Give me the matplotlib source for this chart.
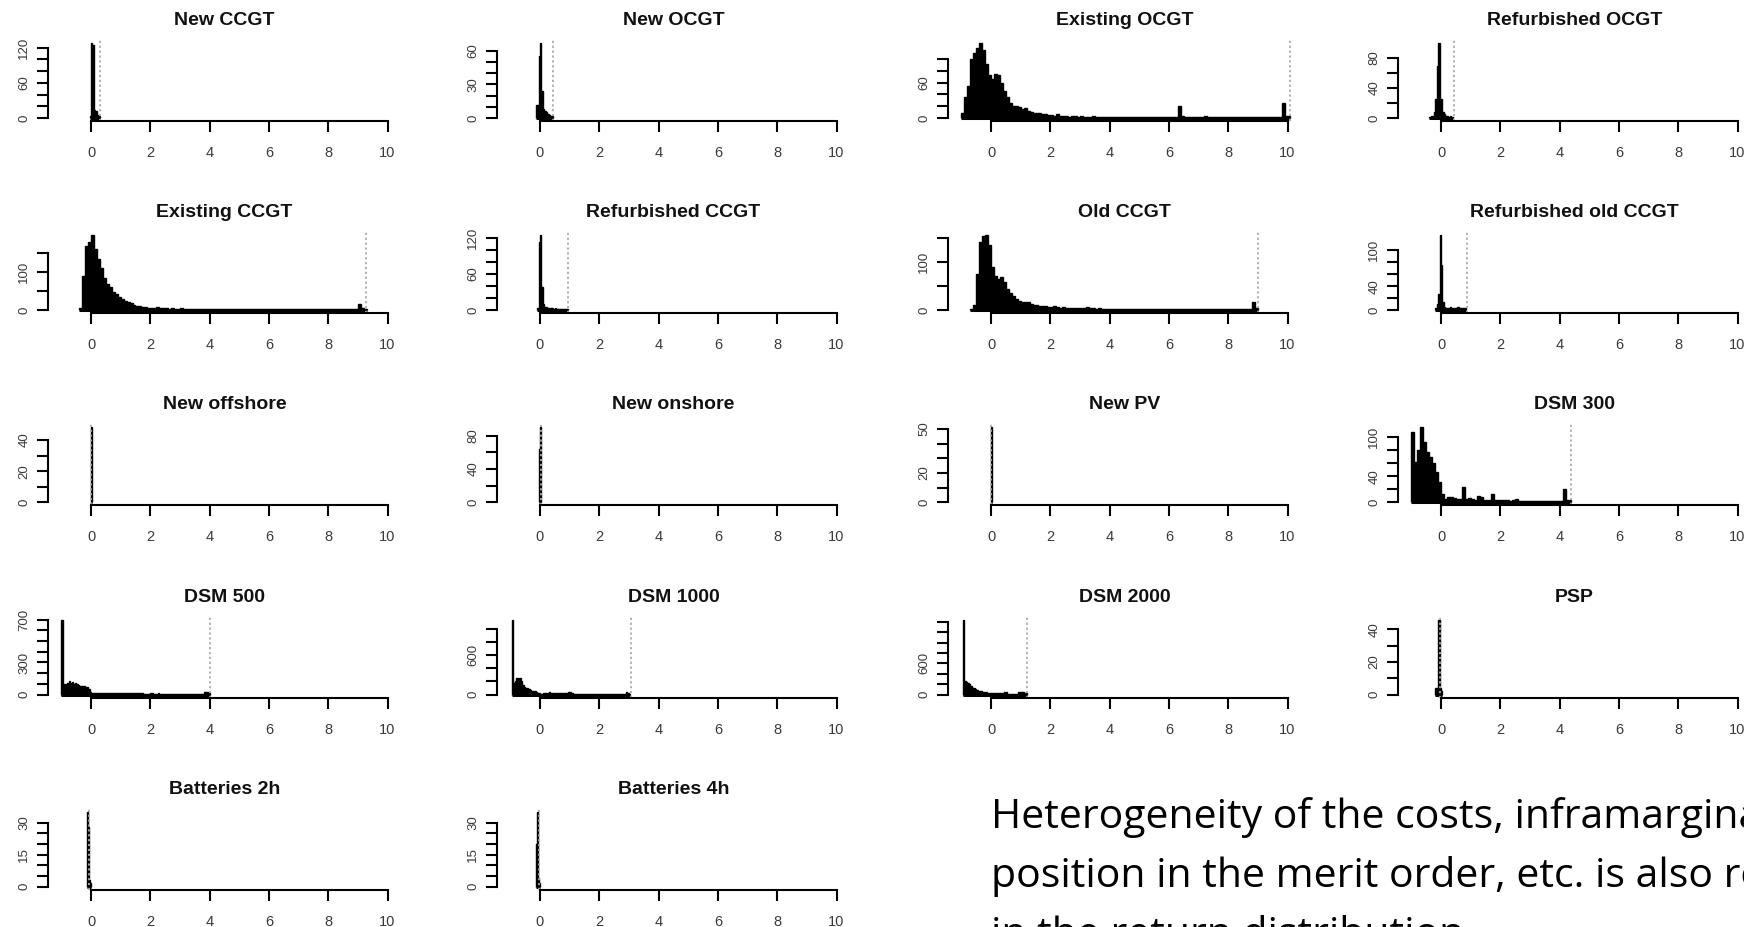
import numpy as np
import matplotlib
matplotlib.use('Agg')
import matplotlib.pyplot as plt

plt.rcParams['font.family'] = ['Liberation Sans', 'DejaVu Sans']

W, H = 1744, 927

titles = ['New CCGT', 'New OCGT', 'Existing OCGT', 'Refurbished OCGT',
          'Existing CCGT', 'Refurbished CCGT', 'Old CCGT', 'Refurbished old CCGT',
          'New offshore', 'New onshore', 'New PV', 'DSM 300',
          'DSM 500', 'DSM 1000', 'DSM 2000', 'PSP',
          'Batteries 2h', 'Batteries 4h']

# histogram counts per technology
new_ccgt = [3, 128, 124, 13, 12, 5, 4]
new_ocgt = [12, 12, 55, 67, 24, 8, 6, 5, 4, 3, 2, 2]
existing_ocgt = [8, 35, 55, 100, 110, 118, 127, 115, 92, 72,
                 66, 74, 72, 60, 45, 35, 26, 20, 20, 18,
                 15, 17, 12, 10, 9, 8, 9, 7, 6, 5,
                 5, 4, 6, 4, 3, 3, 2, 3, 3, 2,
                 3, 2, 2, 1, 3, 2, 1, 1, 1, 1,
                 1, 1, 1, 1, 1, 1, 1, 1, 1, 1,
                 1, 1, 1, 1, 1, 1, 1, 1, 1, 1,
                 1, 1, 1, 20, 3, 2, 2, 1, 1, 1,
                 1, 1, 4, 1, 1, 1, 1, 1, 1, 1,
                 1, 1, 1, 1, 1, 1, 1, 1, 1, 1,
                 1, 1, 1, 1, 1, 1, 1, 1, 26, 4,
                 3]
refurb_ocgt = [2, 3, 3, 8, 25, 69, 100, 26, 25, 8, 6, 3, 3, 2, 3, 2]
existing_ccgt = [5, 90, 168, 177, 195, 160, 132, 110, 85, 68,
                 60, 48, 42, 35, 30, 25, 22, 18, 14, 12,
                 10, 8, 8, 7, 7, 6, 8, 6, 6, 5,
                 4, 5, 4, 4, 5, 4, 4, 3, 4, 3,
                 3, 4, 2, 2, 4, 2, 2, 2, 2, 2,
                 2, 2, 2, 2, 2, 2, 2, 2, 2, 2,
                 2, 2, 2, 2, 2, 2, 2, 2, 2, 2,
                 2, 2, 2, 2, 2, 2, 2, 2, 2, 2,
                 2, 2, 2, 2, 2, 2, 2, 2, 2, 2,
                 2, 2, 2, 2, 16, 6, 4]
refurb_ccgt = [3, 112, 124, 39, 11, 6, 5, 4, 3, 3, 3, 2, 3, 2, 2, 2, 2, 2, 2, 2, 2]
old_ccgt = [3, 10, 75, 141, 153, 155, 134, 89, 70, 65,
            68, 58, 44, 36, 30, 24, 19, 17, 16, 16,
            12, 10, 10, 9, 8, 8, 7, 7, 8, 6,
            5, 6, 5, 4, 5, 4, 5, 4, 5, 6,
            4, 5, 3, 4, 3, 2, 2, 2, 2, 2,
            2, 2, 2, 2, 2, 2, 2, 2, 2, 2,
            2, 2, 2, 2, 2, 2, 2, 2, 2, 2,
            2, 2, 2, 2, 2, 2, 2, 2, 2, 2,
            2, 2, 2, 2, 2, 2, 2, 2, 2, 2,
            2, 2, 2, 2, 2, 16, 4]
refurb_old_ccgt = [3, 10, 27, 125, 75, 13, 6, 4, 4, 3, 5, 4, 3, 4, 3, 5, 4, 3, 4, 3, 3]
new_offshore = [48, 2]
new_onshore = [64, 90, 4]
new_pv = [51, 2]
dsm_300 = [108, 62, 80, 115, 92, 77, 69, 60, 46, 31,
           13, 5, 8, 8, 6, 5, 5, 23, 5, 6,
           5, 4, 10, 8, 4, 4, 3, 13, 3, 3,
           4, 3, 3, 2, 3, 5, 2, 2, 2, 2,
           2, 2, 2, 2, 2, 2, 2, 2, 2, 2,
           2, 21, 4, 3]
dsm_500 = [700, 93, 95, 90, 110, 125, 108, 115, 100, 105,
           98, 88, 84, 80, 78, 82, 75, 70, 53, 22,
           16, 17, 15, 16, 18, 16, 15, 17, 16, 15,
           16, 15, 17, 16, 15, 16, 17, 15, 16, 16,
           15, 16, 17, 16, 15, 16, 14, 15, 16, 15,
           14, 15, 16, 14, 13, 8, 8, 7, 8, 8,
           16, 12, 6, 5, 5, 12, 5, 5, 5, 5,
           5, 5, 5, 5, 5, 5, 5, 5, 5, 5,
           5, 5, 5, 5, 5, 5, 5, 5, 5, 5,
           5, 5, 5, 5, 5, 5, 20, 22, 20, 18]
dsm_1000 = [1140, 180, 200, 256, 190, 256, 205, 150, 120, 103,
            100, 80, 65, 62, 55, 48, 40, 26, 20, 10,
            12, 18, 26, 28, 30, 41, 26, 27, 26, 28,
            26, 27, 28, 26, 25, 27, 26, 30, 41, 38,
            26, 10, 8, 8, 8, 8, 8, 8, 8, 8,
            8, 8, 8, 8, 8, 8, 8, 8, 8, 8,
            8, 8, 8, 8, 8, 8, 8, 8, 8, 8,
            8, 8, 8, 8, 8, 8, 8, 36, 30, 10]
dsm_2000 = [1440, 260, 250, 220, 195, 160, 130, 120, 100, 80,
            70, 65, 60, 55, 50, 45, 40, 35, 33, 33,
            33, 33, 33, 33, 34, 33, 33, 33, 46, 46,
            13, 13, 13, 13, 13, 13, 13, 46, 46, 46,
            46, 40, 30]
psp = [4, 4, 46, 4, 2]
batteries_2h = [2, 35, 28, 3, 2]
batteries_4h = [3, 20, 35, 4, 2]

counts = [new_ccgt, new_ocgt, existing_ocgt, refurb_ocgt,
          existing_ccgt, refurb_ccgt, old_ccgt, refurb_old_ccgt,
          new_offshore, new_onshore, new_pv, dsm_300,
          dsm_500, dsm_1000, dsm_2000, psp,
          batteries_2h, batteries_4h]
bin_start = [-0.05, -0.15, -1.0, -0.4,
             -0.4, -0.1, -0.7, -0.2,
             0.0, -0.02, 0.0, -1.0,
             -1.0, -0.95, -0.95, -0.2,
             -0.15, -0.15]
bin_width = [0.05, 0.05, 0.1, 0.05,
             0.1, 0.05, 0.1, 0.05,
             0.02, 0.02, 0.02, 0.1,
             0.05, 0.05, 0.05, 0.05,
             0.03, 0.03]
cutoff = [0.3, 0.45, 10.08, 0.43,
          9.28, 0.96, 9.0, 0.87,
          0.0, 0.02, 0.0, 4.4,
          4.0, 3.07, 1.21, -0.05,
          -0.08, -0.05]
ytick_step = [20, 10, 20, 20,
              50, 20, 50, 20,
              10, 20, 10, 20,
              100, 200, 200, 10,
              5, 5]
ytick_top = [120, 60, 100, 80,
             150, 120, 150, 100,
             40, 80, 50, 100,
             700, 1000, 1400, 40,
             30, 30]
ytick_shown = [[0, 60, 120], [0, 30, 60], [0, 60], [0, 40, 80],
               [0, 100], [0, 60, 120], [0, 100], [0, 40, 100],
               [0, 20, 40], [0, 40, 80], [0, 20, 50], [0, 40, 100],
               [0, 300, 700], [0, 600], [0, 600], [0, 20, 40],
               [0, 15, 30], [0, 15, 30]]
xticks = [0, 2, 4, 6, 8, 10]

note_lines = ['Heterogeneity of the costs, inframarginal rents,',
              'position in the merit order, etc. is also reflected',
              'in the return distribution.']

fig = plt.figure(figsize=(W / 100, H / 100), dpi=100)
fig.patch.set_facecolor('white')

col_zero = [91, 540, 991, 1441]
ppu = 29.65
lab_col = '#3a3a3a'

for i, title in enumerate(titles):
    r, c = divmod(i, 4)
    left = col_zero[c] - 1.44 * ppu
    top = 40 + 192.2 * r
    ax = fig.add_axes([left / W, 1 - (top + 81) / H, 11.88 * ppu / W, 81 / H])

    cnt = np.array(counts[i], dtype=float)
    edges = bin_start[i] + bin_width[i] * np.arange(len(cnt) + 1)
    ax.stairs(cnt, edges, fill=True, color='black', lw=0)
    ax.stairs(cnt, edges, color='black', lw=1.0, baseline=0)
    ax.hlines(0, edges[0], edges[-1], color='black', lw=2.2)
    ax.axvline(cutoff[i], color='#aaaaaa', ls=(0, (1.2, 1.5)), lw=1.3)

    m = cnt.max()
    ax.set_xlim(-1.44, 10.44)
    ax.set_ylim(-0.04 * m, 1.04 * m)

    for s in ['top', 'right']:
        ax.spines[s].set_visible(False)
    ax.spines['bottom'].set_bounds(0, 10)
    ax.spines['left'].set_bounds(0, ytick_top[i])
    ax.spines['bottom'].set_linewidth(1.5)
    ax.spines['left'].set_linewidth(1.5)

    ax.set_xticks(xticks)
    ax.set_xticklabels([str(v) for v in xticks])
    yt = np.arange(0, ytick_top[i] + 1, ytick_step[i])
    ax.set_yticks(yt)
    ax.set_yticklabels([str(v) if v in ytick_shown[i] else '' for v in yt],
                       rotation=90, va='center')
    ax.tick_params(axis='x', length=8, width=1.5, pad=10, labelsize=10.5,
                   labelcolor=lab_col)
    ax.tick_params(axis='y', length=8, width=1.5, pad=5, labelsize=9.5,
                   labelcolor=lab_col)
    ax.set_facecolor('none')
    ax.set_title(title, fontsize=14, fontweight='bold', pad=10.8, color='#111111')

for k, line in enumerate(note_lines):
    fig.text(991 / W, 1 - (828 + 59 * k) / H, line, fontsize=29.5,
             family=['Open Sans', 'DejaVu Sans'], va='baseline', ha='left', color='black')

fig.savefig('out.png', dpi=100)
